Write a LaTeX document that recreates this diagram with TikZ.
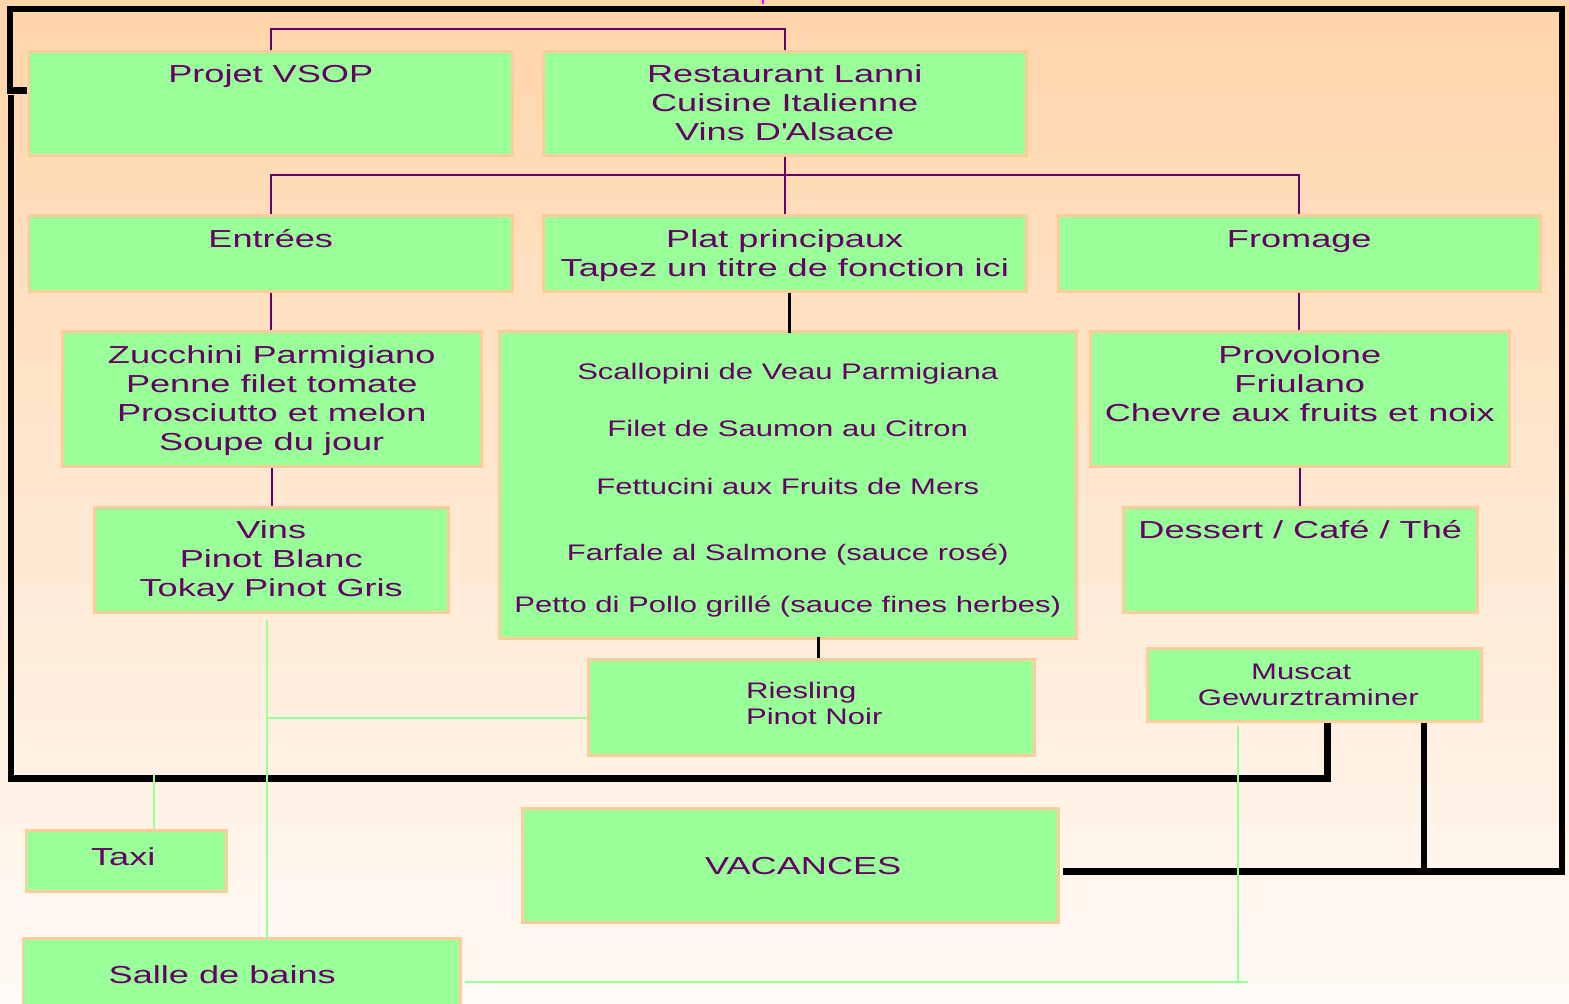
\documentclass[tikz,border=0pt]{standalone}
\usepackage{fontspec}
\setmainfont{Liberation Sans}[FakeStretch=1.47]
\newfontfamily\menufont{Liberation Sans}[FakeStretch=1.38]
\usetikzlibrary{positioning}
\definecolor{bgTop}{RGB}{255,213,170}
\definecolor{bgBottom}{RGB}{255,250,246}
\definecolor{cellFill}{RGB}{153,255,153}
\definecolor{cellEdge}{RGB}{255,204,153}
\definecolor{inkPurple}{RGB}{102,0,102}
\definecolor{tickMagenta}{RGB}{255,0,255}
\newdimen\pxu \pxu=0.02cm
% box of width, height, first baseline, text (all in px)
\newcommand{\cell}[4]{\parbox[c][#2\pxu][t]{#1\pxu}{\centering\vspace*{\dimexpr#3\pxu-\ht\strutbox\relax}\strut#4}}
\tikzset{
    box/.style={rectangle,draw=cellEdge,line width=0.05cm,fill=cellFill,inner sep=0pt,
        anchor=north west,text=inkPurple,font=\fontsize{14}{16.5}\selectfont},
    menu/.style={box,font=\menufont\fontsize{12.8}{14.7}\selectfont},
    link/.style={draw=inkPurple,line width=0.04cm},
    stem/.style={draw=black,line width=0.05cm},
    wire/.style={draw=cellFill,line width=0.04cm},
    frame/.style={draw=black,line width=0.13cm}
}
\begin{document}
\begin{tikzpicture}[x=0.02cm,y=-0.02cm]
    \useasboundingbox (0,0) rectangle (1569,1004);
    \shade[top color=bgTop,bottom color=bgBottom] (0,0) rectangle (1569,1004);
    \draw[tickMagenta,line width=0.04cm] (763,0) -- (763,4);

    \node[box] (vsop)      at (28,50)    {\cell{483}{104}{31}{Projet VSOP}};
    \node[box] (lanni)     at (542,50)   {\cell{483}{104}{31}{Restaurant Lanni\\Cuisine Italienne\\Vins D\textquotesingle Alsace}};
    \node[box] (entrees)   at (28,214)   {\cell{483}{76}{32}{Entrées}};
    \node[box] (plat)      at (542,214)  {\cell{483}{76}{32}{Plat principaux\\Tapez un titre de fonction ici}};
    \node[box] (fromage)   at (1057,214) {\cell{482}{76}{32}{Fromage}};
    \node[box] (zucchini)  at (61,330)   {\cell{419}{135}{32}{Zucchini Parmigiano\\Penne filet tomate\\Prosciutto et melon\\Soupe du jour}};
    \node[menu] (mains)    at (498,330)  {\cell{577}{307}{48}{Scallopini de Veau Parmigiana\\[17.6pt]Filet de Saumon au Citron\\[18.7pt]Fettucini aux Fruits de Mers\\[22.7pt]Farfale al Salmone (sauce rosé)\\[14.8pt]Petto di Pollo grillé (sauce fines herbes)}};
    \node[box] (provolone) at (1089,330) {\cell{419}{135}{32}{Provolone\\Friulano\\Chevre aux fruits et noix}};
    \node[box] (vins)      at (93,506)   {\cell{354}{105}{31}{Vins\\Pinot Blanc\\Tokay Pinot Gris}};
    \node[box] (dessert)   at (1122,506) {\cell{354}{105}{31}{Dessert / Café / Thé}};
    \node[menu] (riesling) at (587,658)  {\cell{446}{96}{39}{\kern6\pxu\begin{tabular}[t]{@{}l@{}}Riesling\\Pinot Noir\end{tabular}}};
    \node[menu] (muscat)   at (1146,647) {\cell{334}{73}{31}{Muscat\kern26\pxu\\Gewurztraminer\kern12\pxu}};
    \node[box] (taxi)      at (25,829)   {\cell{200}{61}{35}{Taxi\kern6\pxu}};
    \node[box] (vacances)  at (521,807)  {\cell{536}{114}{66}{\kern26\pxu VACANCES}};
    \node[box] (salle)     at (22,937)   {\cell{437}{75}{45}{Salle de bains\kern39\pxu}};

    % tree links
    \draw[link] (vsop.north) -- ++(0,-21) -| (lanni.north);
    \draw[link] (lanni.south) -- (plat.north);
    \draw[link] (entrees.north) -- ++(0,-39) -| (fromage.north);
    \draw[link] (entrees.south) -- (entrees.south |- zucchini.north);
    \draw[link] (zucchini.south) -- (zucchini.south |- vins.north);
    \draw[link] (fromage.south) -- (fromage.south |- provolone.north);
    \draw[link] (provolone.south) -- (provolone.south |- dessert.north);
    \draw[stem] ([xshift=0.09cm]plat.south) -- ++(0,40);
    \draw[stem] ([xshift=0.14cm]riesling.north) -- ++(0,-21);

    % thick frame
    \draw[frame] ([shift={(-1,-13)}]vsop.west) -- ++(-17,0) -- ++(0,-81) -- ++(1552,0) -- ++(0,862) -- ([shift={(3,6)}]vacances.east);
    \draw[frame] ([xshift=0.26cm]muscat.south) -- ++(0,56) -- ++(-1316,0) -- ++(0,-684);
    \draw[frame] ([xshift=2.2cm]muscat.south) -- ++(0,150);

    % green wires
    \draw[wire] ([shift={(-4,6)}]vins.south) -- ++(0,320);
    \draw[wire] ([yshift=-0.22cm]riesling.west) -- ++(-321,0);
    \draw[wire] ([xshift=0.56cm]taxi.north) -- ++(0,-54);
    \draw[wire] ([shift={(-76,3)}]muscat.south) -- ++(0,257);
    \draw[wire] ([shift={(3,6.5)}]salle.east) -- ++(783,0);
\end{tikzpicture}
\end{document}
